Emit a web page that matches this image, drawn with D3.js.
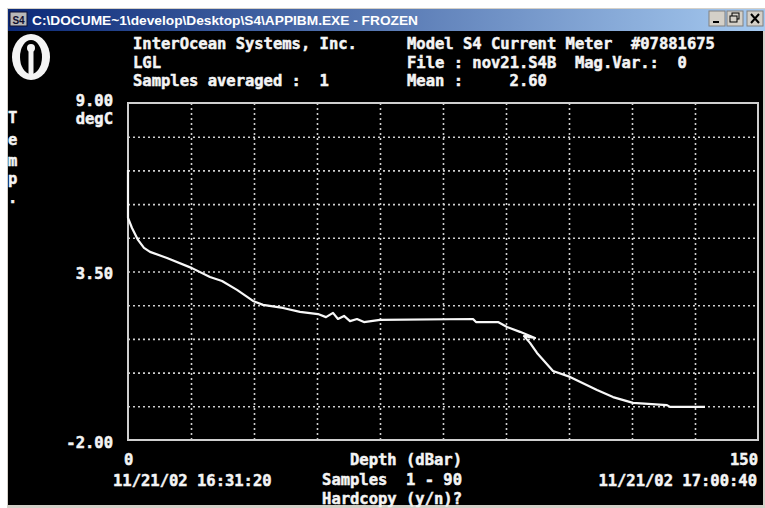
<!DOCTYPE html>
<html>
<head>
<meta charset="utf-8">
<script src="https://cdn.jsdelivr.net/npm/d3@7"></script>
<style>
	html, body { margin: 0; padding: 0; background: #fff; }
	svg { display: block; }
	.mono { font-family: "DejaVu Sans Mono", monospace; font-weight: bold; fill: #f4f4f4; stroke: #f4f4f4; stroke-width: 0.5; white-space: pre; }
</style>
</head>
<body>
<div id="chart"></div>
<script>
// temperature profile (depth in dBar, temp in degC)
const depth = [0, 0, 0.95, 2.38, 3.81, 5.24, 9.29, 15.24, 19.52, 22.38, 25.95, 29.76, 32.14, 36.9,
	40.95, 45.24, 47.14, 48.81, 50.0, 51.43, 52.86, 54.52, 56.19, 57.86, 60.0, 82.14, 82.86, 88.1, 90.24, 93.33,
	96.9, 94.29, 95.71, 97.38, 101.19, 105.24, 111.67, 115.48, 120.24, 128.33, 129.05, 137.38];
const temp = [6.81, 5.25, 4.92, 4.53, 4.27, 4.14, 3.94, 3.61, 3.32, 3.19, 2.9, 2.54, 2.41, 2.31,
	2.18, 2.11, 2.01, 2.15, 1.95, 2.05, 1.88, 1.95, 1.85, 1.88, 1.92, 1.95, 1.85, 1.85, 1.69, 1.53,
	1.33, 1.39, 1.17, 0.84, 0.25, 0.06, -0.37, -0.6, -0.79, -0.86, -0.92, -0.92];

const xDomain = [0, 150];
const yDomain = [-2, 9];
const xGrid = [15, 30, 45, 60, 75, 90, 105, 120, 135];
const yGrid = [-0.9, 0.2, 1.3, 2.4, 3.5, 4.6, 5.7, 6.8, 7.9];
const xTickLabels = ["0", "150"];
const yTickLabels = ["9.00", "3.50", "-2.00"];

const titleText = "C:\\DOCUME~1\\develop\\Desktop\\S4\\APPIBM.EXE - FROZEN";
const headerLeft = ["InterOcean Systems, Inc.", "LGL", "Samples averaged :  1"];
const headerRight = ["Model S4 Current Meter  #07881675", "File : nov21.S4B  Mag.Var.:  0", "Mean :     2.60"];
const footerMid = ["Depth (dBar)", "Samples  1 - 90", "Hardcopy (y/n)?"];
const startTime = "11/21/02 16:31:20";
const endTime = "11/21/02 17:00:40";
const yTitle = ["T", "e", "m", "p", "."];

const W = 765, H = 508;
const CHAR_W = 9.33;
const plot = { left: 128, top: 103, right: 758, bottom: 440 };

function monoText(parent, str, x, y, anchor) {
	let w = str.length * CHAR_W;
	let x0 = anchor === "end" ? x - w : x;
	return parent.append("text")
		.attr("class", "mono")
		.attr("x", x0)
		.attr("y", y)
		.attr("font-size", 16)
		.attr("textLength", w)
		.attr("lengthAdjust", "spacingAndGlyphs")
		.text(str);
}

function drawWindow(svg) {
	let defs = svg.append("defs");
	let grad = defs.append("linearGradient").attr("id", "titleGrad");
	grad.append("stop").attr("offset", "0%").attr("stop-color", "#0c2a78");
	grad.append("stop").attr("offset", "100%").attr("stop-color", "#a6caf0");

	// frame + screen
	svg.append("rect").attr("x", 7).attr("y", 8).attr("width", W - 7).attr("height", H - 8).attr("fill", "#d4d0c8");
	svg.append("rect").attr("x", 8).attr("y", 9).attr("width", W - 8).attr("height", 22).attr("fill", "url(#titleGrad)");
	svg.append("rect").attr("x", 8).attr("y", 31).attr("width", 755).attr("height", 474).attr("fill", "#000");

	// title icon
	svg.append("rect").attr("x", 10).attr("y", 12).attr("width", 17).attr("height", 14)
		.attr("fill", "#b8b8b8").attr("stroke", "#101030");
	svg.append("text").attr("x", 18.5).attr("y", 23.5).attr("text-anchor", "middle")
		.attr("font-family", "Liberation Sans").attr("font-weight", "bold").attr("font-size", 10)
		.attr("fill", "#101030").text("S4");

	svg.append("text")
		.attr("x", 32).attr("y", 25)
		.attr("font-family", "Liberation Sans, Arial").attr("font-weight", "bold").attr("font-size", 12)
		.attr("fill", "#fff")
		.attr("textLength", 386).attr("lengthAdjust", "spacingAndGlyphs")
		.text(titleText);

	// caption buttons
	let btnX = [709, 727, 747];
	btnX.forEach(bx => {
		svg.append("rect").attr("x", bx).attr("y", 11).attr("width", 16).attr("height", 15)
			.attr("fill", "#d4d0c8").attr("stroke", "#808080");
	});
	svg.append("rect").attr("x", 713).attr("y", 21).attr("width", 6).attr("height", 2).attr("fill", "#000");
	svg.append("rect").attr("x", 732).attr("y", 13).attr("width", 7).attr("height", 6).attr("fill", "none").attr("stroke", "#000");
	svg.append("rect").attr("x", 730).attr("y", 16).attr("width", 7).attr("height", 6).attr("fill", "#d4d0c8").attr("stroke", "#000");
	svg.append("path").attr("d", "M751,14 L759,23 M759,14 L751,23").attr("stroke", "#000").attr("stroke-width", 2);

	// InterOcean logo
	let logo = svg.append("g");
	logo.append("ellipse").attr("cx", 31).attr("cy", 57).attr("rx", 19).attr("ry", 23).attr("fill", "#f4f4f4");
	logo.append("ellipse").attr("cx", 31).attr("cy", 57).attr("rx", 11).attr("ry", 17).attr("fill", "#000");
	logo.append("circle").attr("cx", 31).attr("cy", 48).attr("r", 4).attr("fill", "#f4f4f4");
	logo.append("rect").attr("x", 28.5).attr("y", 50).attr("width", 5).attr("height", 25).attr("fill", "#f4f4f4");
}

function buildChart(parentID) {
	let svg = d3.select(`#${parentID}`).append("svg")
		.attr("width", W)
		.attr("height", H);

	drawWindow(svg);

	//header texts
	headerLeft.forEach((s, i) => monoText(svg, s, 133, [49, 68, 86][i], "start"));
	headerRight.forEach((s, i) => monoText(svg, s, 407, [49, 68, 86][i], "start"));

	//scales
	let xScale = d3.scaleLinear().domain(xDomain).range([plot.left, plot.right]);
	let yScale = d3.scaleLinear().domain(yDomain).range([plot.bottom, plot.top]);

	//dotted grid through the axis generators
	let xGridG = svg.append("g")
		.attr("transform", `translate(0,${plot.bottom})`)
		.call(d3.axisBottom(xScale).tickValues(xGrid).tickSize(-(plot.bottom - plot.top)).tickFormat(""));
	let yGridG = svg.append("g")
		.attr("transform", `translate(${plot.left},0)`)
		.call(d3.axisLeft(yScale).tickValues(yGrid).tickSize(-(plot.right - plot.left)).tickFormat(""));
	[xGridG, yGridG].forEach(g => {
		g.select(".domain").remove();
		g.selectAll("line")
			.attr("stroke", "#cfcfcf")
			.attr("stroke-width", 1.6)
			.attr("stroke-dasharray", "2,3");
	});

	//plot frame
	svg.append("rect")
		.attr("x", plot.left).attr("y", plot.top)
		.attr("width", plot.right - plot.left).attr("height", plot.bottom - plot.top)
		.attr("fill", "none").attr("stroke", "#cfcfcf").attr("stroke-width", 2);

	//temperature line
	let pts = depth.map((d, i) => [d, temp[i]]);
	let line = d3.line().x(d => xScale(d[0])).y(d => yScale(d[1]));
	svg.append("path")
		.datum(pts)
		.attr("d", line)
		.attr("fill", "none")
		.attr("stroke", "#f8f8f8")
		.attr("stroke-width", 2.2)
		.attr("stroke-linejoin", "round");

	//y labels
	let yVals = [9, 3.5, -2];
	let yOff = [3, 7, 8];
	yTickLabels.forEach((s, i) => monoText(svg, s, 113, yScale(yVals[i]) + yOff[i], "end"));
	monoText(svg, "degC", 113, 124, "end");

	//vertical title
	let yTitlePos = [123, 145, 166, 184, 203];
	yTitle.forEach((c, i) => monoText(svg, c, 8, yTitlePos[i], "start"));

	//x labels
	monoText(svg, xTickLabels[0], xScale(0) - 4, 465, "start");
	monoText(svg, xTickLabels[1], xScale(150), 465, "end");
	monoText(svg, startTime, 113, 486, "start");
	monoText(svg, endTime, 757, 486, "end");
	footerMid.forEach((s, i) => monoText(svg, s, 462, [465, 485, 504][i], "end"));
}

buildChart("chart");
</script>
</body>
</html>
